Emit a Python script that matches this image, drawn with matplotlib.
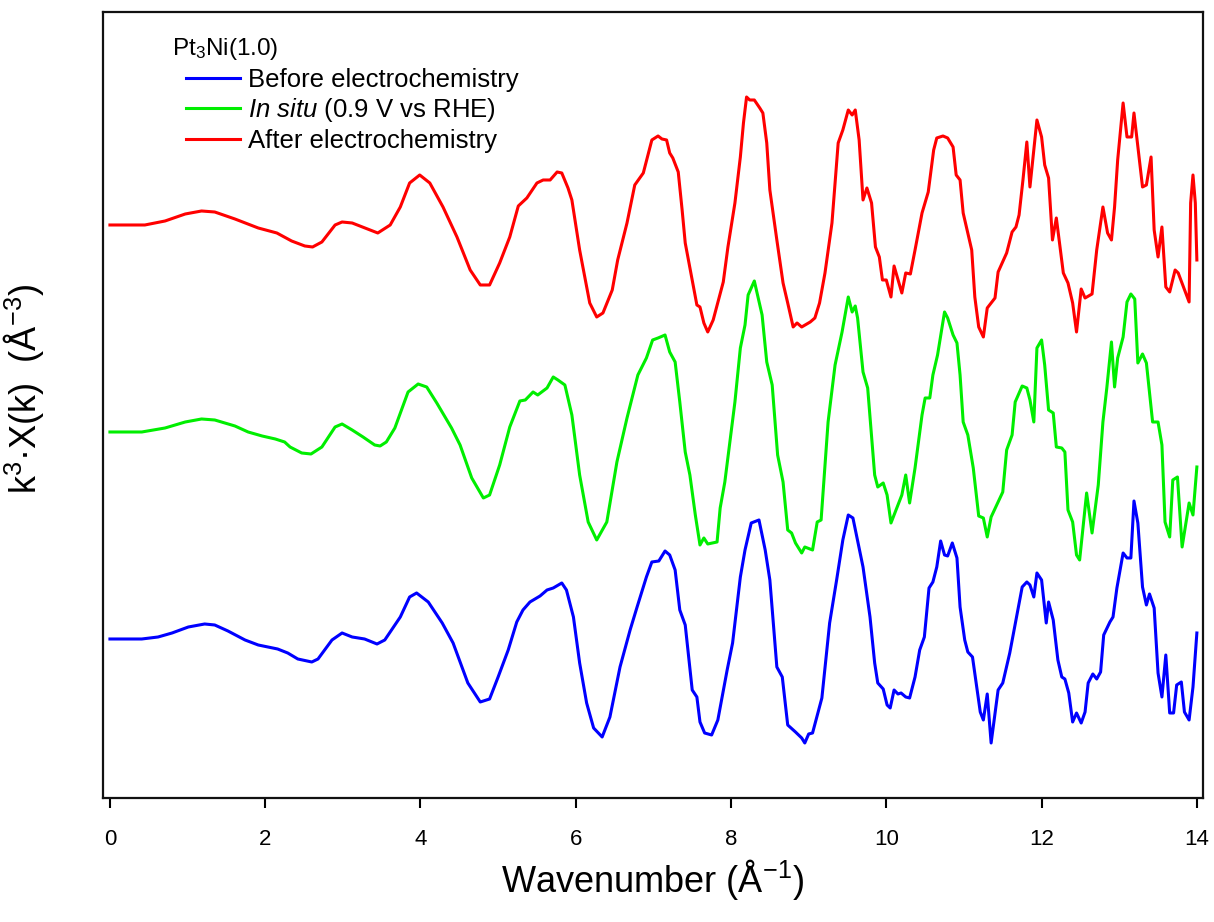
import numpy as np
import matplotlib
matplotlib.use("Agg")
import matplotlib.pyplot as plt

plt.rcParams['font.family'] = ['Liberation Sans', 'DejaVu Sans']
plt.rcParams['mathtext.fontset'] = 'custom'
plt.rcParams['mathtext.rm'] = 'Liberation Sans'
plt.rcParams['mathtext.it'] = 'Liberation Sans:italic'

# k^3-weighted EXAFS, Pt3Ni(1.0)
# after electrochemistry
k_after = [0, 0.45, 0.71, 0.97, 1.18, 1.35, 1.61, 1.91, 2.15, 2.34, 2.51, 2.61, 2.73, 2.90, 2.99,
           3.12, 3.32, 3.45, 3.61, 3.74, 3.86, 3.99, 4.12, 4.29, 4.47, 4.64, 4.77, 4.89, 5.02,
           5.15, 5.26, 5.37, 5.50, 5.58, 5.67, 5.76, 5.82, 5.90, 5.95, 6.05, 6.18, 6.27, 6.35,
           6.47, 6.54, 6.66, 6.76, 6.87, 6.98, 7.06, 7.11, 7.17, 7.21, 7.25, 7.32, 7.37, 7.41,
           7.50, 7.56, 7.60, 7.65, 7.70, 7.77, 7.90, 7.96, 8.05, 8.12, 8.16, 8.20, 8.24, 8.30,
           8.37, 8.41, 8.46, 8.50, 8.59, 8.67, 8.73, 8.80, 8.85, 8.91, 9.02, 9.08, 9.14, 9.21,
           9.30, 9.38, 9.44, 9.51, 9.56, 9.60, 9.65, 9.70, 9.75, 9.81, 9.86, 9.91, 9.95, 10.00,
           10.06, 10.10, 10.20, 10.25, 10.31, 10.37, 10.46, 10.54, 10.61, 10.65, 10.73, 10.79,
           10.86, 10.90, 10.95, 10.99, 11.05, 11.10, 11.14, 11.19, 11.25, 11.30, 11.40, 11.44,
           11.55, 11.62, 11.67, 11.71, 11.76, 11.81, 11.85, 11.94, 12.00, 12.04, 12.09, 12.14,
           12.19, 12.28, 12.34, 12.40, 12.45, 12.51, 12.56, 12.65, 12.71, 12.79, 12.85, 12.90,
           12.94, 12.98, 13.05, 13.10, 13.16, 13.19, 13.24, 13.30, 13.35, 13.41, 13.45, 13.50,
           13.55, 13.60, 13.65, 13.72, 13.76, 13.90, 13.92, 13.95, 13.98, 14.00]
chi_after = [0, 0, 0.2, 0.55, 0.7, 0.65, 0.3, -0.15, -0.4, -0.8, -1.05, -1.1, -0.85, 0, 0.15,
             0.1, -0.2, -0.4, 0, 0.9, 2.1, 2.5, 2.1, 0.9, -0.6, -2.25, -3.0, -3.0, -1.9,
             -0.6, 0.95, 1.35, 2.1, 2.25, 2.25, 2.65, 2.6, 1.85, 1.25, -1.25, -3.9, -4.6, -4.4,
             -3.25, -1.75, 0.1, 2.0, 2.6, 4.25, 4.45, 4.3, 4.25, 3.6, 3.35, 2.65, 0.75, -0.9,
             -2.75, -4.0, -4.1, -4.9, -5.35, -4.75, -2.85, -1.1, 1.1, 3.4, 5.1, 6.4, 6.25, 6.25,
             5.85, 5.6, 4.1, 1.75, -0.75, -2.9, -3.9, -5.1, -4.9, -5.1, -4.85, -4.65, -3.9, -2.4,
             0.1, 4.1, 4.75, 5.75, 5.5, 5.75, 4.25, 1.25, 1.85, 1.1, -1.1, -1.6, -2.75, -2.75,
             -3.6, -2.05, -3.4, -2.4, -2.45, -1.25, 0.6, 1.65, 3.75, 4.35, 4.45, 4.35,
             3.9, 2.5, 2.25, 0.6, -0.4, -1.25, -3.6, -5.1, -5.6, -4.15, -3.65, -2.35,
             -1.4, -0.35, -0.1, 0.5, 2.25, 4.15, 1.9, 5.25, 4.4, 3.0, 2.35, -0.75,
             0.35, -2.4, -2.9, -3.9, -5.35, -3.2, -3.65, -3.45, -1.25, 0.9, -0.4, -0.75,
             0.9, 3.25, 6.1, 4.4, 4.4, 5.6, 3.9, 1.9, 2.0, 3.4, -0.25, -1.6,
             -0.1, -3.1, -3.35, -2.25, -2.4, -3.85, 1.1, 2.5, 1.1, -1.75]

# in situ, 0.9 V vs RHE
k_insitu = [0, 0.41, 0.71, 0.97, 1.18, 1.35, 1.61, 1.78, 1.96, 2.13, 2.25, 2.32, 2.47, 2.59, 2.73,
            2.90, 2.99, 3.12, 3.26, 3.41, 3.48, 3.56, 3.67, 3.84, 3.97, 4.08, 4.21, 4.40, 4.51,
            4.66, 4.81, 4.89, 5.02, 5.15, 5.28, 5.35, 5.45, 5.51, 5.63, 5.71, 5.77, 5.86, 5.95,
            6.05, 6.16, 6.27, 6.40, 6.53, 6.66, 6.80, 6.91, 6.99, 7.06, 7.15, 7.21, 7.28, 7.34,
            7.41, 7.47, 7.54, 7.60, 7.65, 7.70, 7.82, 7.86, 7.92, 8.05, 8.12, 8.18, 8.22, 8.30,
            8.40, 8.46, 8.53, 8.60, 8.67, 8.73, 8.78, 8.83, 8.91, 8.95, 9.05, 9.11, 9.16, 9.25,
            9.34, 9.43, 9.51, 9.56, 9.60, 9.63, 9.70, 9.76, 9.85, 9.89, 9.96, 10.01, 10.06,
            10.20, 10.25, 10.30, 10.37, 10.46, 10.50, 10.56, 10.60, 10.66, 10.75, 10.79, 10.86,
            10.91, 10.95, 10.99, 11.05, 11.12, 11.19, 11.25, 11.30, 11.35, 11.50, 11.55, 11.62,
            11.66, 11.75, 11.81, 11.85, 11.90, 11.94, 12.00, 12.04, 12.09, 12.15, 12.19, 12.26,
            12.30, 12.34, 12.40, 12.45, 12.49, 12.58, 12.65, 12.73, 12.79, 12.84, 12.90, 12.94,
            12.98, 13.05, 13.10, 13.15, 13.20, 13.24, 13.30, 13.35, 13.43, 13.50, 13.55, 13.59,
            13.65, 13.69, 13.75, 13.81, 13.90, 13.95, 14.00]
chi_insitu = [0, 0, 0.2, 0.5, 0.65, 0.6, 0.3, 0, -0.2, -0.35, -0.5, -0.75, -1.05, -1.1, -0.75,
              0.25, 0.4, 0.1, -0.25, -0.65, -0.7, -0.5, 0.2, 2.0, 2.4, 2.25, 1.45, 0.2, -0.65,
              -2.3, -3.3, -3.15, -1.65, 0.25, 1.55, 1.6, 2.0, 1.85, 2.2, 2.75, 2.6, 2.35, 0.85,
              -2.15, -4.5, -5.4, -4.5, -1.5, 0.7, 2.85, 3.7, 4.6, 4.7, 4.85, 4.0, 3.5, 1.5,
              -1.0, -2.15, -4.15, -5.65, -5.3, -5.6, -5.5, -3.8, -2.5, 1.5, 4.2, 5.35, 6.85, 7.55,
              5.85, 3.5, 2.35, -1.15, -2.5, -4.9, -5.05, -5.55, -6.05, -5.75, -5.9, -4.5, -4.4, 0.5,
              3.35, 5.0, 6.75, 6.0, 6.3, 5.7, 3.0, 2.2, -2.15, -2.75, -2.55, -3.15, -4.55,
              -3.15, -2.15, -3.55, -1.8, 0.85, 1.7, 1.7, 2.85, 3.85, 6.0, 5.7, 4.85,
              4.45, 2.85, 0.5, -0.15, -1.8, -4.2, -4.3, -5.25, -4.25, -3.0, -0.9, -0.15,
              1.5, 2.3, 2.2, 1.6, 0.5, 4.2, 4.6, 3.35, 1.1, 0.95, -0.75, -0.8,
              -1.0, -3.9, -4.5, -6.15, -6.4, -3.05, -5.05, -2.65, 0.5, 2.2, 4.5, 2.25,
              3.7, 4.75, 6.5, 6.9, 6.65, 3.45, 3.9, 3.45, 0.5, 0.5, -0.65, -4.5,
              -5.25, -2.4, -2.25, -5.75, -3.55, -4.15, -1.75]

# before electrochemistry
k_before = [0, 0.41, 0.62, 0.80, 1.01, 1.22, 1.35, 1.52, 1.74, 1.91, 2.16, 2.29, 2.42, 2.60, 2.68,
            2.86, 2.99, 3.12, 3.28, 3.44, 3.54, 3.74, 3.86, 3.95, 4.10, 4.28, 4.42, 4.61, 4.77,
            4.89, 5.00, 5.13, 5.24, 5.32, 5.41, 5.54, 5.63, 5.71, 5.82, 5.88, 5.97, 6.05, 6.14,
            6.23, 6.34, 6.44, 6.57, 6.70, 6.79, 6.91, 6.98, 7.07, 7.15, 7.21, 7.28, 7.34, 7.41,
            7.50, 7.56, 7.60, 7.66, 7.75, 7.83, 7.95, 8.02, 8.12, 8.18, 8.26, 8.36, 8.44, 8.50,
            8.59, 8.66, 8.73, 8.83, 8.91, 8.95, 9.00, 9.05, 9.17, 9.27, 9.36, 9.44, 9.51, 9.57,
            9.70, 9.79, 9.85, 9.89, 9.96, 10.01, 10.05, 10.10, 10.15, 10.19, 10.25, 10.30, 10.37,
            10.43, 10.49, 10.55, 10.60, 10.65, 10.70, 10.75, 10.79, 10.85, 10.91, 10.95, 11.01,
            11.05, 11.11, 11.21, 11.25, 11.30, 11.35, 11.44, 11.50, 11.59, 11.75, 11.81, 11.85,
            11.90, 11.94, 12.00, 12.06, 12.09, 12.15, 12.21, 12.26, 12.30, 12.35, 12.40, 12.45,
            12.51, 12.56, 12.60, 12.66, 12.71, 12.76, 12.80, 12.88, 12.92, 12.97, 13.05, 13.10,
            13.15, 13.19, 13.24, 13.30, 13.35, 13.39, 13.45, 13.50, 13.55, 13.60, 13.65, 13.70,
            13.74, 13.80, 13.84, 13.90, 13.95, 14.00]
chi_before = [0, 0, 0.1, 0.3, 0.6, 0.75, 0.7, 0.4, -0.05, -0.3, -0.5, -0.7, -1.0, -1.15, -1.0,
              -0.05, 0.3, 0.1, 0, -0.25, -0.05, 1.1, 2.1, 2.3, 1.85, 0.8, -0.2, -2.2, -3.15,
              -3.0, -1.9, -0.55, 0.85, 1.45, 1.85, 2.15, 2.45, 2.55, 2.8, 2.45, 1.1, -1.2, -3.2,
              -4.45, -4.9, -3.9, -1.4, 0.45, 1.6, 3.1, 3.85, 3.9, 4.4, 4.2, 3.45, 1.45, 0.7,
              -2.55, -2.9, -4.15, -4.7, -4.8, -4.05, -1.55, -0.2, 3.1, 4.45, 5.8, 5.95, 4.45, 2.95,
              -1.4, -1.9, -4.3, -4.65, -4.95, -5.2, -4.75, -4.7, -2.95, 0.8, 2.95, 4.95, 6.2, 6.05,
              3.6, 1.1, -1.2, -2.2, -2.5, -3.3, -3.45, -2.55, -2.75, -2.7, -2.9, -2.95, -1.9,
              -0.55, 0.1, 2.55, 2.85, 3.6, 4.9, 4.2, 4.15, 4.8, 4.05, 1.6, -0.05,
              -0.65, -0.9, -3.65, -4.05, -2.75, -5.2, -2.55, -2.2, -0.7, 2.6, 2.85, 2.7,
              2.1, 3.3, 2.95, 0.8, 1.85, 0.95, -1.05, -1.9, -2.0, -2.7, -4.15, -3.7,
              -4.2, -3.65, -2.2, -1.75, -2.0, -1.65, 0.2, 0.85, 1.1, 2.55, 4.3, 4.05,
              4.05, 6.9, 5.8, 2.6, 1.7, 2.25, 1.55, -1.7, -2.9, -0.8, -3.7, -3.7,
              -2.3, -2.15, -3.65, -4.05, -2.4, 0.3]

offsets = [20.7, 10.35, 0.0]
labels = ['Before electrochemistry', r'$\it{In\ situ}$ (0.9 V vs RHE)', 'After electrochemistry']

fig = plt.figure(figsize=(12.14, 9.22), dpi=100)
ax = fig.add_axes([0.0848, 0.1345, 0.9062, 0.8525])

ax.plot(k_before, np.array(chi_before) + offsets[2], color='#0000ff', lw=2.2, label=labels[0])
ax.plot(k_insitu, np.array(chi_insitu) + offsets[1], color='#00ee00', lw=2.2, label=labels[1])
ax.plot(k_after, np.array(chi_after) + offsets[0], color='#ff0000', lw=2.2, label=labels[2])

ax.set_xlim(-0.09, 14.08)
ax.set_ylim(-7.95, 31.35)
ax.set_xticks(np.arange(0, 15, 2))
ax.set_yticks([])
ax.tick_params(axis='x', direction='out', length=7, width=1.5, pad=15, labelsize=16)
for s in ax.spines.values():
    s.set_linewidth(1.6)
    s.set_color('#111111')

ax.set_xlabel(r'Wavenumber (Å$^{-1}$)', fontsize=26)
ax.xaxis.set_label_coords(0.5, -0.075)
ax.set_ylabel(r'k$^3$·X(k)  (Å$^{-3}$)', fontsize=26)
ax.yaxis.set_label_coords(-0.052, 0.52)

ax.text(0.0627, 0.953, r'Pt$_3$Ni(1.0)', transform=ax.transAxes, fontsize=17.5, va='center', ha='left')
ax.legend(loc='upper left', bbox_to_anchor=(0.0755, 0.929), frameon=False, fontsize=18.5,
          handlelength=2.1, handletextpad=0.32, labelspacing=0.17, borderpad=0, borderaxespad=0)

fig.savefig('out.png', dpi=100)
